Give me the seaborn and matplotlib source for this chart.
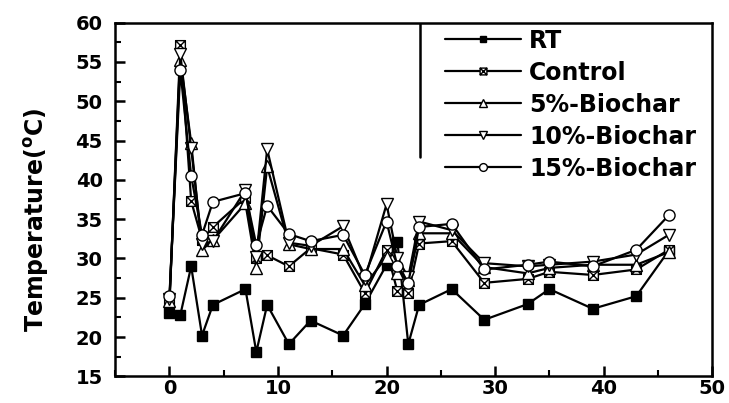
import numpy as np
import matplotlib
matplotlib.use("Agg")
import matplotlib.pyplot as plt
from matplotlib.path import Path
from matplotlib.ticker import MultipleLocator
import seaborn as sns

sns.set_style("ticks")
plt.rcParams['font.family'] = ['DejaVu Sans']
plt.rcParams['font.weight'] = 'bold'
plt.rcParams['mathtext.default'] = 'bf'
for key in ['text.color', 'axes.labelcolor', 'xtick.color', 'ytick.color', 'axes.edgecolor']:
    plt.rcParams[key] = 'black'

# 数据
days = [0, 1, 2, 3, 4, 7, 8, 9, 11, 13, 16, 18, 20, 21, 22, 23, 26, 29, 33, 35, 39, 43, 46]
rt = [23.0, 22.8, 29.0, 20.2, 24.1, 26.1, 18.1, 24.1, 19.1, 22.1, 20.2, 24.2,
      29.2, 32.1, 19.1, 24.1, 26.1, 22.2, 24.2, 26.1, 23.6, 25.2, 31.0]
control = [24.3, 57.1, 37.3, 32.4, 34.0, 37.7, 30.0, 30.4, 29.0, 31.3, 30.5, 25.6,
           31.1, 25.8, 25.6, 31.9, 32.2, 26.9, 27.4, 28.3, 27.9, 28.6, 31.1]
biochar5 = [24.6, 55.3, 44.7, 31.1, 32.3, 37.0, 28.8, 41.7, 31.8, 31.2, 31.2, 26.6,
            30.2, 28.1, 27.2, 33.2, 33.2, 28.9, 28.1, 28.8, 29.2, 29.2, 30.8]
biochar10 = [24.8, 56.0, 44.0, 31.8, 32.2, 38.7, 30.2, 43.9, 32.0, 31.6, 34.1, 27.4,
             36.9, 30.0, 27.6, 34.7, 33.6, 29.4, 29.0, 29.2, 29.6, 30.5, 33.0]
biochar15 = [25.2, 54.0, 40.5, 33.0, 37.2, 38.3, 31.7, 36.7, 33.1, 32.2, 33.0, 27.9,
             34.7, 29.0, 26.9, 34.0, 34.4, 28.6, 29.2, 29.6, 29.0, 31.1, 35.5]
labels = ['RT', 'Control', '5%-Biochar', '10%-Biochar', '15%-Biochar']

# 带叉的方块标记
box_x = Path([(-1, -1), (1, -1), (1, 1), (-1, 1), (-1, -1), (-1, -1), (1, 1), (-1, 1), (1, -1)],
             [Path.MOVETO, Path.LINETO, Path.LINETO, Path.LINETO, Path.CLOSEPOLY,
              Path.MOVETO, Path.LINETO, Path.MOVETO, Path.LINETO])

series = [rt, control, biochar5, biochar10, biochar15]
markers = ['s', box_x, '^', 'v', 'o']
faces = ['black', 'white', 'white', 'white', 'white']
sizes = [6.5, 7, 8, 8, 8]

fig, ax = plt.subplots(figsize=(7.29, 4.03), dpi=100)
for vals, lab, mk, fc, ms in zip(series, labels, markers, faces, sizes):
    sns.lineplot(x=days, y=vals, ax=ax, color='black', lw=1.6, marker=mk,
                 mfc=fc, mec='black', mew=1.0, ms=ms, label=lab)

ax.set_xlim(-5, 50)
ax.set_ylim(15, 60)
ax.xaxis.set_major_locator(MultipleLocator(10))
ax.xaxis.set_minor_locator(MultipleLocator(5))
ax.yaxis.set_major_locator(MultipleLocator(5))
ax.yaxis.set_minor_locator(MultipleLocator(2.5))
ax.tick_params(which='major', direction='in', length=7, width=1.8, labelsize=14)
ax.tick_params(axis='y', which='major', pad=9)
ax.tick_params(axis='x', which='major', pad=2)
ax.tick_params(which='minor', direction='in', length=4, width=1.5)
for lbl in ax.get_xticklabels() + ax.get_yticklabels():
    lbl.set_fontweight('bold')
for sp in ax.spines.values():
    sp.set_visible(True)
    sp.set_linewidth(1.8)
    sp.set_color('black')

ax.set_xlabel('')
ax.set_ylabel(r'Temperature($^{o}$C)', fontsize=17, fontweight='bold')
ax.yaxis.set_label_coords(-0.108, 0.443)

leg = ax.legend(loc='upper left', bbox_to_anchor=(0.553, 0.983), prop={'weight': 'bold', 'size': 17},
                frameon=False, borderaxespad=0, borderpad=0,
                handlelength=3.2, labelspacing=0.34, markerscale=0.7, handletextpad=0.35)
# 图例左侧边框线
ax.plot([0.511, 0.511], [0.62, 1.0], transform=ax.transAxes, color='black', lw=1.8)

fig.subplots_adjust(left=0.158, right=0.977, top=0.944, bottom=0.066)
fig.savefig('out.png', dpi=100)
